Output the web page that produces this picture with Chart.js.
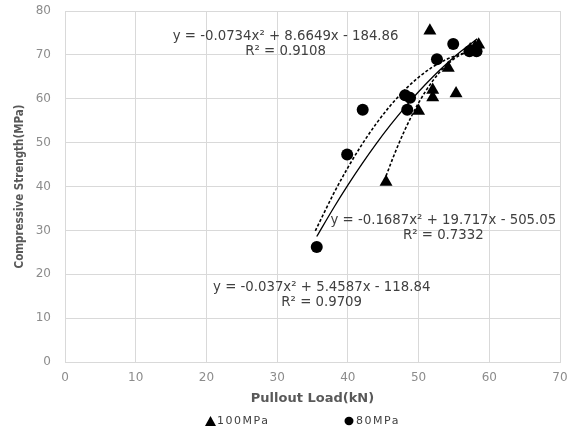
<!DOCTYPE html>
<html>
<head>
<meta charset="utf-8">
<script src="https://cdn.jsdelivr.net/npm/chart.js@4"></script>
<style>
  body { margin: 0; background: #fff; }
  #wrap { position: relative; width: 575px; height: 429px; }
</style>
</head>
<body>
<div id="wrap"><canvas id="chart"></canvas></div>
<script>
// measured points
let x100 = [51.6, 57.3, 58.0, 58.5, 54.2, 52.0, 52.0, 55.3, 50.0, 45.4];
let y100 = [75.5, 71.2, 71.8, 72.3, 67.0, 62.0, 60.3, 61.2, 57.2, 41.0];
let x80 = [54.9, 52.6, 48.1, 48.8, 48.4, 42.1, 39.9, 35.6, 57.2, 58.2];
let y80 = [72.5, 69.0, 60.8, 60.2, 57.5, 57.5, 47.3, 26.2, 70.8, 70.8];

// trendline equations printed on the chart (a*x^2 + b*x + c)
let fit80 = [-0.0734, 8.6649, -184.86];
let fit100 = [-0.1687, 19.717, -505.05];
let fitAll = [-0.037, 5.4587, -118.84];
let xs80 = [35.4, 38, 40, 42, 44, 46, 48, 50, 52, 54, 56, 57.8];
let xs100 = [45.4, 46.5, 48, 50, 52, 54, 56, 58.5];
let xsAll = [35.6, 38, 40, 42, 44, 46, 48, 50, 52, 54, 56, 58.3];

let xTicks = [0, 10, 20, 30, 40, 50, 60, 70];
let yTicks = [0, 10, 20, 30, 40, 50, 60, 70, 80];

function pts(xs, ys) {
    return xs.map((x, i) => ({ x: x, y: ys[i] }));
}
function curve(xs, k) {
    return xs.map(x => ({ x: x, y: k[0] * x * x + k[1] * x + k[2] }));
}

// equation labels, anchored in data units
let labels = [
    { x: 31.2, y: 74.1, lines: ["y = -0.0734x\u00b2 + 8.6649x - 184.86", "R\u00b2 = 0.9108"] },
    { x: 53.5, y: 32.3, lines: ["y = -0.1687x\u00b2 + 19.717x - 505.05", "R\u00b2 = 0.7332"] },
    { x: 36.3, y: 17.0, lines: ["y = -0.037x\u00b2 + 5.4587x - 118.84", "R\u00b2 = 0.9709"] }
];

let extras = {
    id: "extras",
    afterDraw(chart) {
        let c = chart.ctx;
        let sx = chart.scales.x, sy = chart.scales.y;
        c.save();
        c.fillStyle = "#404040";
        c.font = "13.3px 'DejaVu Sans'";
        c.textAlign = "center";
        c.textBaseline = "middle";
        labels.forEach(l => {
            let px = sx.getPixelForValue(l.x);
            let py = sy.getPixelForValue(l.y);
            l.lines.forEach((t, i) => c.fillText(t, px, py + i * 15));
        });
        // legend
        c.font = "11px 'DejaVu Sans'";
        c.textAlign = "left";
        c.fillStyle = "#000";
        c.beginPath();
        c.moveTo(205, 426); c.lineTo(216, 426); c.lineTo(210.5, 416); c.closePath();
        c.fill();
        c.beginPath();
        c.ellipse(349, 421, 4.5, 4.2, 0, 0, Math.PI * 2);
        c.fill();
        c.fillStyle = "#404040";
        c.letterSpacing = "1.5px";
        c.fillText("100MPa", 217, 421);
        c.fillText("80MPa", 356, 421);
        c.restore();
    }
};

let canvas = document.getElementById("chart");
canvas.width = 575;
canvas.height = 429;

new Chart(canvas.getContext("2d"), {
    type: "scatter",
    data: {
        datasets: [
            { label: "100MPa", data: pts(x100, y100), pointStyle: "triangle", pointRadius: 7.5,
              backgroundColor: "#000", borderColor: "#000", borderWidth: 0 },
            { label: "80MPa", data: pts(x80, y80), pointStyle: "circle", pointRadius: 6,
              backgroundColor: "#000", borderColor: "#000", borderWidth: 0 },
            { label: "fit80", data: curve(xs80, fit80), showLine: true, pointRadius: 0,
              borderColor: "#000", borderWidth: 1.6, borderDash: [3, 2], cubicInterpolationMode: "monotone" },
            { label: "fit100", data: curve(xs100, fit100), showLine: true, pointRadius: 0,
              borderColor: "#000", borderWidth: 1.6, borderDash: [3, 2], cubicInterpolationMode: "monotone" },
            { label: "fitAll", data: curve(xsAll, fitAll), showLine: true, pointRadius: 0,
              borderColor: "#000", borderWidth: 1.3, cubicInterpolationMode: "monotone" }
        ]
    },
    options: {
        responsive: false,
        animation: false,
        layout: { padding: { left: 5, right: 15, top: 11, bottom: 19 } },
        plugins: {
            legend: { display: false },
            tooltip: { enabled: false }
        },
        scales: {
            x: {
                type: "linear", min: 0, max: 70,
                afterBuildTicks: s => { s.ticks = xTicks.map(v => ({ value: v })); },
                afterFit: s => { s.height = 48; s.paddingRight = 0; },
                grid: { color: "#d9d9d9", tickLength: 0 },
                border: { color: "#d9d9d9" },
                ticks: { color: "#8c8c8c", font: { family: "DejaVu Sans", size: 12 }, padding: 9 },
                title: { display: true, text: "Pullout Load(kN)", color: "#595959",
                         font: { family: "DejaVu Sans", size: 13, weight: "bold" }, padding: { top: 3, bottom: 4 } }
            },
            y: {
                type: "linear", min: 0, max: 80,
                afterBuildTicks: s => { s.ticks = yTicks.map(v => ({ value: v })); },
                afterFit: s => { s.width = 60; s.paddingTop = 0; s.paddingBottom = 0; },
                grid: { color: "#d9d9d9", tickLength: 0 },
                border: { color: "#d9d9d9" },
                ticks: { color: "#8c8c8c", font: { family: "DejaVu Sans", size: 12 }, padding: 14 },
                title: { display: true, text: "Compressive Strength(MPa)", color: "#595959",
                         font: { family: "DejaVu Sans Condensed", size: 11.5, weight: "bold" }, padding: { top: 8, bottom: 0 } }
            }
        }
    },
    plugins: [extras]
});
</script>
</body>
</html>
